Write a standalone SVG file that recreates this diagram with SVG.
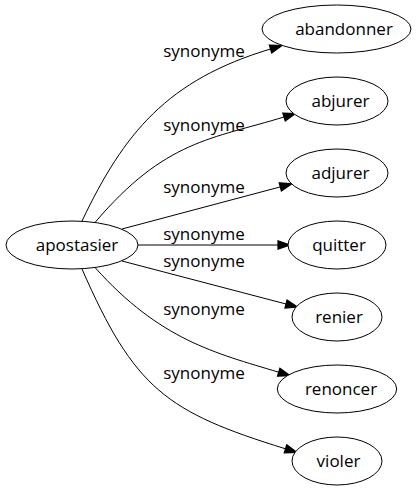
<svg xmlns="http://www.w3.org/2000/svg" width="417" height="491" viewBox="0 0 417 491">
<style>
  .node ellipse { fill: #ffffff; stroke: #000000; stroke-width: 1; }
  .node text { font-family: "Open Sans", "DejaVu Sans", sans-serif; font-size: 17px; fill: #000000; text-anchor: middle; }
  .edge path { fill: none; stroke: #000000; stroke-width: 1; marker-end: url(#arrow); }
  .lbl text { font-family: "Open Sans", "DejaVu Sans", sans-serif; font-size: 17px; fill: #000000; text-anchor: middle; }
</style>
<defs>
  <marker id="arrow" markerUnits="userSpaceOnUse" markerWidth="12" markerHeight="10" refX="0" refY="3.5" orient="auto" viewBox="0 0 10 7" overflow="visible">
    <path d="M0,0 L10,3.5 L0,7 z" fill="#000000" stroke="#000000" stroke-width="1"/>
  </marker>
</defs>
<rect width="417" height="491" fill="#ffffff"/>
<g id="connectors">
  <g class="edge"><path d="M82,221 C124,133 167,80 270.5,49"/></g>
  <g class="edge"><path d="M95,222.5 C165,140 212,139 284,117"/></g>
  <g class="edge"><path d="M122,229 L280.3,186.9"/></g>
  <g class="edge"><path d="M137.5,245 L278,245"/></g>
  <g class="edge"><path d="M122,261 L286,304"/></g>
  <g class="edge"><path d="M95,267.5 C160,340 215,353 278.7,372.2"/></g>
  <g class="edge"><path d="M82,269 C134.5,389 166.5,412 285.5,448.8"/></g>
  <g class="lbl">
    <text x="204" y="57">synonyme</text>
    <text x="204" y="131">synonyme</text>
    <text x="204" y="193">synonyme</text>
    <text x="204" y="240">synonyme</text>
    <text x="204" y="267">synonyme</text>
    <text x="204" y="315">synonyme</text>
    <text x="204" y="379">synonyme</text>
  </g>
</g>
<g id="apostasier" class="node"><ellipse cx="72" cy="245" rx="66" ry="24"/><text x="77" y="251">apostasier</text></g>
<g id="abandonner" class="node"><ellipse cx="336.5" cy="29" rx="74.5" ry="24"/><text x="344" y="35">abandonner</text></g>
<g id="abjurer" class="node"><ellipse cx="337" cy="101" rx="51" ry="24"/><text x="340.5" y="107">abjurer</text></g>
<g id="adjurer" class="node"><ellipse cx="337" cy="173" rx="51" ry="24"/><text x="340.5" y="179">adjurer</text></g>
<g id="quitter" class="node"><ellipse cx="337" cy="245" rx="49" ry="24"/><text x="339" y="251">quitter</text></g>
<g id="renier" class="node"><ellipse cx="337" cy="317" rx="45" ry="24"/><text x="339" y="323">renier</text></g>
<g id="renoncer" class="node"><ellipse cx="337" cy="389" rx="59.7" ry="24"/><text x="341" y="395">renoncer</text></g>
<g id="violer" class="node"><ellipse cx="337" cy="461" rx="45" ry="24"/><text x="338.5" y="467">violer</text></g>
</svg>
